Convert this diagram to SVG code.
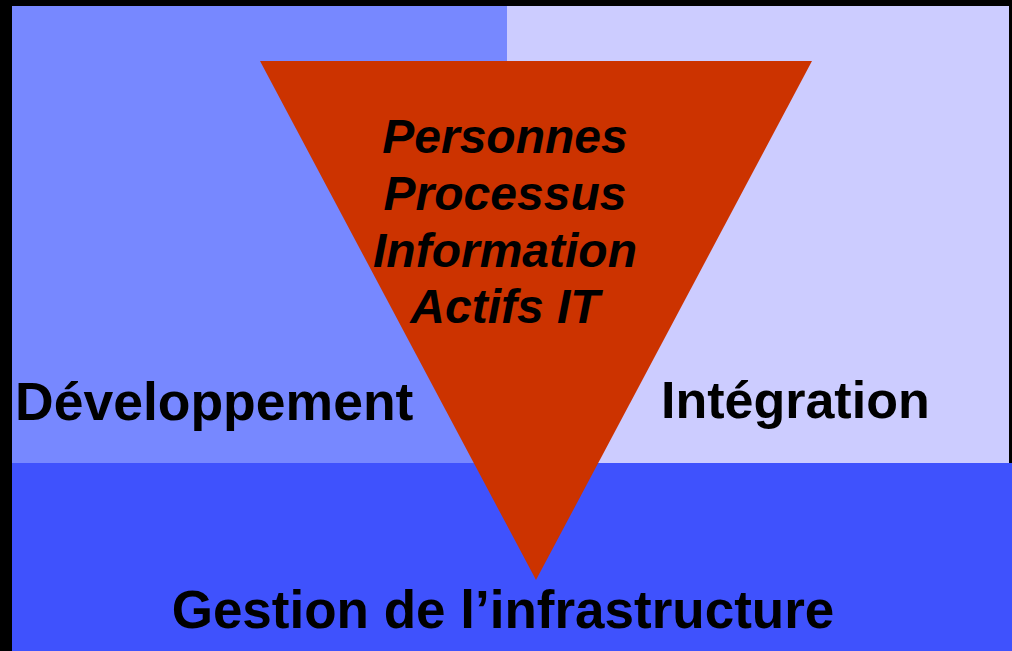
<svg xmlns="http://www.w3.org/2000/svg" width="1012" height="651" viewBox="0 0 1012 651">
<style>
.lbl{font-family:"Liberation Sans",Arial,sans-serif;font-weight:bold;fill:#000;}
.big{font-size:52px;}
.mid{font-size:48px;font-style:italic;text-anchor:middle;}
</style>
<rect x="0" y="0" width="1012" height="651" fill="#000"/>
<g id="developpement">
<rect x="12" y="6" width="495" height="457" fill="#7788FF"/>
</g>
<g id="integration">
<rect x="507" y="6" width="502" height="457" fill="#CCCCFF"/>
</g>
<g id="infrastructure">
<rect x="12" y="463" width="1000" height="188" fill="#3F52FD"/>
</g>
<g id="triangle">
<polygon points="260,61 812,61 536,580" fill="#CC3300"/>
<text class="lbl mid" x="505" y="153">Personnes</text>
<text class="lbl mid" x="505" y="210">Processus</text>
<text class="lbl mid" x="505" y="267">Information</text>
<text class="lbl mid" x="505" y="323">Actifs IT</text>
</g>
<g id="labels">
<text class="lbl" font-size="53.5" x="15" y="420">Développement</text>
<text class="lbl big" x="661" y="418">Intégration</text>
<text class="lbl" font-size="53" x="503" y="628" text-anchor="middle">Gestion de l’infrastructure</text>
</g>
<g id="connectors"></g>
</svg>
